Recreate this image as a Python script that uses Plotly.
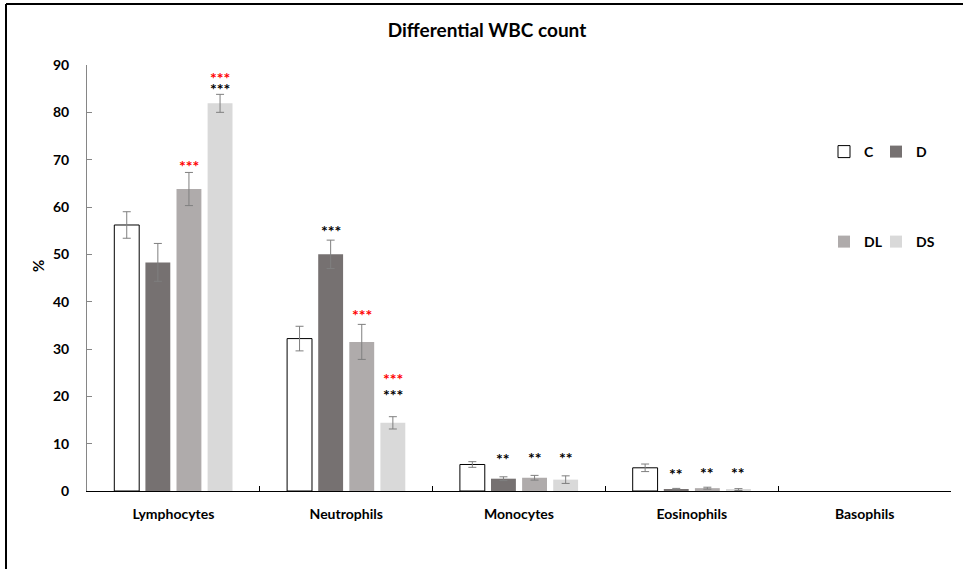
import plotly.graph_objects as go

categories = ["Lymphocytes", "Neutrophils", "Monocytes", "Eosinophils", "Basophils"]
series = ["C", "D", "DL", "DS"]
# Basophils: no bars drawn in the chart (value 0)
values_C = [56.2, 32.2, 5.6, 4.9, None]
values_D = [48.3, 50.0, 2.6, 0.4, None]
values_DL = [63.8, 31.5, 2.8, 0.6, None]
values_DS = [81.9, 14.4, 2.4, 0.3, None]
err_C = [2.8, 2.6, 0.6, 0.8, None]
err_D = [4.0, 3.0, 0.4, 0.15, None]
err_DL = [3.5, 3.7, 0.5, 0.2, None]
err_DS = [1.9, 1.3, 0.8, 0.2, None]
# significance marks (black: vs C, red: vs D)
sig_black_D = ["", "***", "**", "**", ""]
sig_black_DL = ["", "", "**", "**", ""]
sig_black_DS = ["***", "***", "**", "**", ""]
sig_red_DL = ["***", "***", "", "", ""]
sig_red_DS = ["***", "***", "", "", ""]
y_ticks = [0, 10, 20, 30, 40, 50, 60, 70, 80, 90]

values = [values_C, values_D, values_DL, values_DS]
errors = [err_C, err_D, err_DL, err_DS]
colors = ["#FFFFFF", "#767171", "#AFABAB", "#D9D9D9"]
line_w = [1, 0, 0, 0]
legends = ["legend", "legend2", "legend3", "legend4"]

FONT = "Lato"
W, H = 963, 569
L, R, T, B = 87, 12, 65, 78
BARGAP, GROUPGAP = 0.28, 0.2

fig = go.Figure()
for i, s in enumerate(series):
    fig.add_trace(go.Bar(
        x=categories, y=values[i], name=s, showlegend=True,
        marker=dict(color=colors[i], line=dict(color="#000000", width=line_w[i])),
        error_y=dict(type="data", array=errors[i], visible=True, color="#7F7F7F",
                     thickness=1, width=4),
        legend=legends[i],
    ))

# significance annotations
n = len(series)
slot = (1 - BARGAP) / n
def bar_x(ci, si):
    return ci - (1 - BARGAP) / 2 + (si + 0.5) * slot

ann = []
def add_marks(si, marks, color, shifts):
    for ci, m in enumerate(marks):
        if not m:
            continue
        top = (values[si][ci] or 0) + (errors[si][ci] or 0)
        ann.append(dict(x=bar_x(ci, si), y=top, xref="x", yref="y", text=m,
                        showarrow=False, yanchor="middle", yshift=shifts[ci],
                        font=dict(family=FONT, size=16, color=color, weight="bold")))

add_marks(1, sig_black_D, "#000000", [0, 10, 18, 15, 0])
add_marks(2, sig_black_DL, "#000000", [0, 0, 18, 15, 0])
add_marks(3, sig_black_DS, "#000000", [6, 22, 18, 16, 0])
add_marks(2, sig_red_DL, "#FF0000", [7, 10, 0, 0, 0])
add_marks(3, sig_red_DS, "#FF0000", [17, 38, 0, 0, 0])

pw = W - L - R
ph = H - T - B
def px_x(p):
    return (p - L) / pw
def px_y(p):
    return (H - B - p) / ph

# y-axis title
ann.append(dict(x=px_x(38), y=px_y(266), xref="paper", yref="paper", text="%", textangle=-90,
                showarrow=False, xanchor="center", yanchor="middle",
                font=dict(family=FONT, size=15, color="#000000", weight="bold")))

shapes = [
    dict(type="line", xref="paper", yref="paper", x0=px_x(6), x1=px_x(6), y0=px_y(4), y1=px_y(H),
         line=dict(color="#000000", width=2)),
    dict(type="line", xref="paper", yref="paper", x0=px_x(6), x1=px_x(W), y0=px_y(4), y1=px_y(4),
         line=dict(color="#000000", width=2)),
]

legend_font = dict(family=FONT, size=14, color="#000000", weight="bold")
def leg(xp, yp):
    return dict(x=px_x(xp), y=px_y(yp), xanchor="left", yanchor="middle", visible=True,
                bgcolor="rgba(0,0,0,0)", itemwidth=30, font=legend_font)

fig.update_layout(
    width=W, height=H,
    margin=dict(l=L, r=R, t=T, b=B),
    paper_bgcolor="#FFFFFF", plot_bgcolor="#FFFFFF",
    showlegend=True,
    barmode="group", bargap=BARGAP, bargroupgap=GROUPGAP,
    title=dict(text="Differential WBC count", x=487 / W, xanchor="center", y=1 - 30 / H, yanchor="middle",
               font=dict(family=FONT, size=19, color="#000000", weight="bold")),
    xaxis=dict(showline=True, linecolor="#000000", linewidth=1, ticks="inside", ticklen=5,
               tickcolor="#000000", tickson="boundaries", showgrid=False, ticklabelstandoff=10,
               categoryorder="array", categoryarray=categories, layer="above traces",
               tickfont=dict(family=FONT, size=14, color="#000000", weight="bold")),
    yaxis=dict(range=[0, 90], tickvals=y_ticks, showline=True, linecolor="#868686", linewidth=1,
               ticks="inside", ticklen=5, tickcolor="#868686", showgrid=False, zeroline=False,
               ticklabelstandoff=14,
               tickfont=dict(family=FONT, size=14, color="#000000", weight="bold")),
    legend=leg(824, 152),
    legend2=leg(876, 152),
    legend3=leg(824, 242),
    legend4=leg(876, 242),
    annotations=ann,
    shapes=shapes,
)

fig.write_html("out.html", config={"displayModeBar": False},
               post_script="document.body.style.margin='0';document.body.style.overflow='hidden';")
